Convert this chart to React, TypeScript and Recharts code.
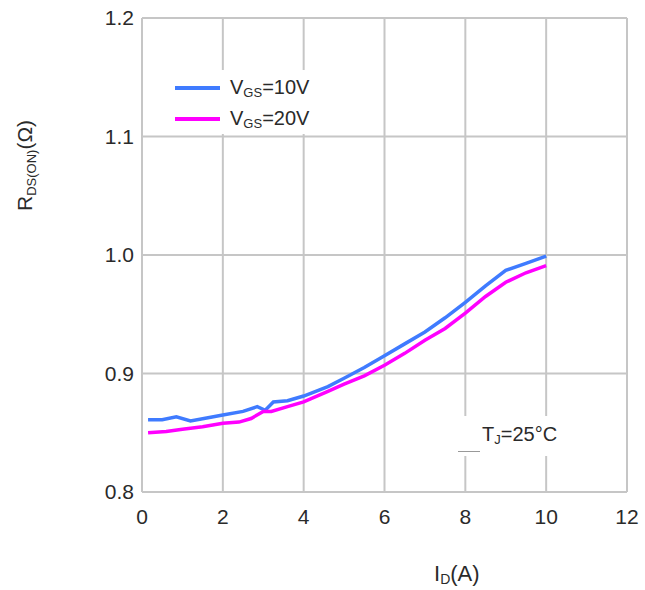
import React from 'react';
import { LineChart, Line, XAxis, YAxis, CartesianGrid, Legend, Label } from 'recharts';

const idVgs10 = [0.15, 0.5, 0.85, 1.2, 1.6, 2.0, 2.5, 2.85, 3.05, 3.25, 3.6, 4.0, 4.6, 5.0, 5.5, 6.0, 6.5, 7.0, 7.5, 8.0, 8.5, 9.0, 9.5, 10.0];
const rdsVgs10 = [0.861, 0.861, 0.8635, 0.860, 0.8625, 0.865, 0.868, 0.872, 0.869, 0.876, 0.877, 0.881, 0.889, 0.896, 0.905, 0.915, 0.925, 0.935, 0.947, 0.960, 0.974, 0.987, 0.993, 0.999];
const idVgs20 = [0.15, 0.6, 1.0, 1.5, 2.0, 2.4, 2.7, 3.0, 3.2, 3.6, 4.0, 4.6, 5.0, 5.5, 6.0, 6.5, 7.0, 7.5, 8.0, 8.5, 9.0, 9.5, 10.0];
const rdsVgs20 = [0.850, 0.851, 0.853, 0.855, 0.858, 0.859, 0.862, 0.868, 0.868, 0.872, 0.876, 0.885, 0.891, 0.898, 0.907, 0.917, 0.928, 0.938, 0.951, 0.965, 0.977, 0.985, 0.991];

const xTicks = [0, 2, 4, 6, 8, 10, 12];
const yTicks = [0.8, 0.9, 1.0, 1.1, 1.2];
const seriesNames = ['10V', '20V'];
const seriesColors = ['#3f7bff', '#ff00ff'];

const data10 = idVgs10.map((x, i) => ({ id: x, r: rdsVgs10[i] }));
const data20 = idVgs20.map((x, i) => ({ id: x, r: rdsVgs20[i] }));

const FONT = '"Liberation Sans", Arial, sans-serif';
const TEXT = '#2a2a2a';

const LegendContent = () => (
  <div style={{ position: 'relative', width: '100%', height: '100%', fontFamily: FONT, color: TEXT }}>
    {seriesNames.map((n, i) => (
      <div key={n} style={{ position: 'absolute', left: 12, top: 6 + i * 31, height: 24, display: 'flex', alignItems: 'center' }}>
        <div style={{ width: 45, height: 4, background: seriesColors[i], marginRight: 10 }} />
        <span style={{ fontSize: 20, whiteSpace: 'nowrap' }}>
          V<sub style={{ fontSize: 13, verticalAlign: -3 }}>GS</sub>={n}
        </span>
      </div>
    ))}
  </div>
);

const YTitle = () => (
  <text transform="translate(32, 211) rotate(-90)" textAnchor="start" fontFamily={FONT} fontSize={21} fill={TEXT}>
    R<tspan fontSize={13} dy={4}>DS(ON)</tspan><tspan dy={-4}>(Ω)</tspan>
  </text>
);

const XTitle = () => (
  <text x={434} y={581} fontFamily={FONT} fontSize={22} fill={TEXT}>
    I<tspan fontSize={14} dy={3}>D</tspan><tspan dy={-3}>(A)</tspan>
  </text>
);

export default function App() {
  return (
    <div style={{ position: 'absolute', left: 0, top: 0, width: 645, height: 590, background: '#fff' }}>
      <LineChart width={645} height={590} margin={{ top: 18, right: 18, bottom: 68, left: 82 }}>
        <CartesianGrid stroke="#c6c6c6" strokeWidth={2} />
        <XAxis
          type="number"
          dataKey="id"
          domain={[0, 12]}
          ticks={xTicks}
          height={30}
          axisLine={false}
          tickLine={false}
          tickMargin={11}
          tick={{ fontSize: 21, fill: TEXT, fontFamily: FONT }}
        >
          <Label content={XTitle} />
        </XAxis>
        <YAxis
          type="number"
          dataKey="r"
          domain={[0.8, 1.2]}
          ticks={yTicks}
          width={60}
          axisLine={false}
          tickLine={false}
          tickFormatter={(v: number) => v.toFixed(1)}
          tick={{ fontSize: 21, fill: TEXT, fontFamily: FONT }}
        >
          <Label content={YTitle} />
        </YAxis>
        <Legend
          layout="horizontal"
          verticalAlign="middle"
          align="center"
          content={LegendContent}
          wrapperStyle={{ left: 163, top: 70, width: 180, height: 64, background: '#fff' }}
        />
        <Line data={data10} dataKey="r" name="VGS=10V" stroke={seriesColors[0]} strokeWidth={3.5} dot={false} isAnimationActive={false} type="linear" />
        <Line data={data20} dataKey="r" name="VGS=20V" stroke={seriesColors[1]} strokeWidth={3.5} dot={false} isAnimationActive={false} type="linear" />
      </LineChart>
      <div style={{ position: 'absolute', left: 435, top: 416, width: 134, height: 40, background: '#fff', fontFamily: FONT, color: TEXT }}>
        <div style={{ position: 'absolute', left: 23, top: 35, width: 22, height: 1, background: '#999' }} />
        <div style={{ position: 'absolute', left: 47, top: 7, fontSize: 20, whiteSpace: 'nowrap' }}>
          T<sub style={{ fontSize: 13, verticalAlign: -3 }}>J</sub>=25°C
        </div>
      </div>
    </div>
  );
}
